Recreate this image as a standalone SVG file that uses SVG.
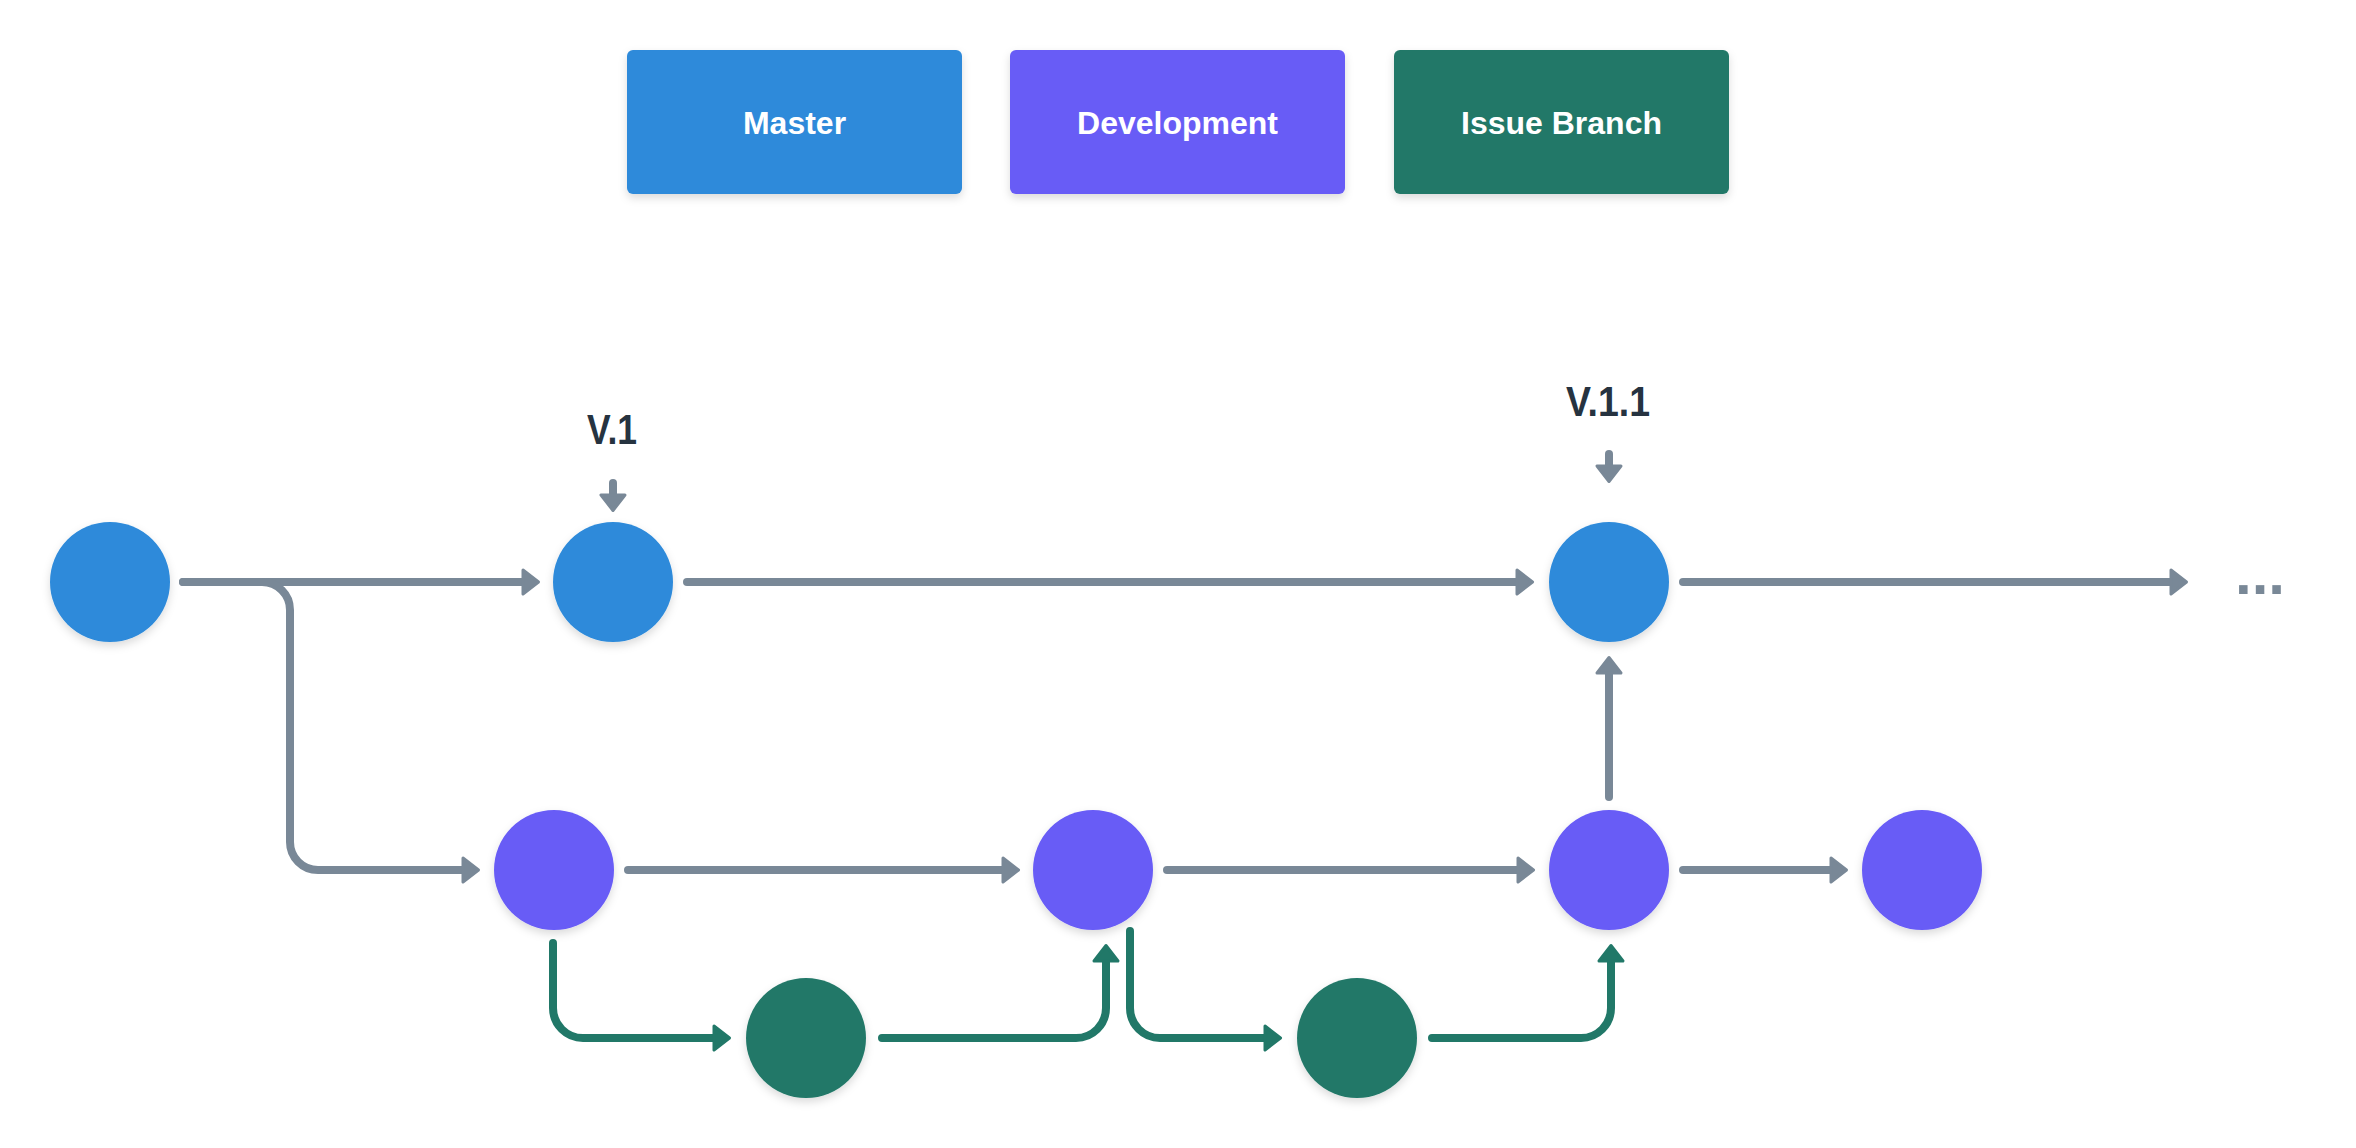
<svg xmlns="http://www.w3.org/2000/svg" width="2356" height="1148" viewBox="0 0 2356 1148">
  <style>
    .legend-label { font-family: "Liberation Sans", Arial, sans-serif; font-size: 32px; font-weight: bold; fill: #ffffff; text-anchor: middle; }
    .tag { font-family: "Liberation Sans", Arial, sans-serif; font-size: 42px; font-weight: bold; fill: #263340; text-anchor: middle; }
    .master { fill: #2D8ADA; }
    .dev { fill: #675BF6; }
    .issue { fill: #217868; }
    .flow { fill: none; stroke: #798897; stroke-width: 8; stroke-linecap: round; stroke-linejoin: round; marker-end: url(#head-gray); }
    .flow-issue { fill: none; stroke: #217868; stroke-width: 8; stroke-linecap: round; stroke-linejoin: round; marker-end: url(#head-green); }
  </style>
  <defs>
    <filter id="soft" x="-30%" y="-30%" width="160%" height="170%">
      <feDropShadow dx="0" dy="4" stdDeviation="4" flood-color="#000000" flood-opacity="0.14"/>
    </filter>
    <marker id="head-gray" markerUnits="userSpaceOnUse" viewBox="-6 -16 24 32" markerWidth="24" markerHeight="32" refX="0" refY="0" orient="auto">
      <path d="M-3,-12 L12.5,0 L-3,12 Z" fill="#798897" stroke="#798897" stroke-width="3" stroke-linejoin="round"/>
    </marker>
    <marker id="head-green" markerUnits="userSpaceOnUse" viewBox="-6 -16 24 32" markerWidth="24" markerHeight="32" refX="0" refY="0" orient="auto">
      <path d="M-3,-12 L12.5,0 L-3,12 Z" fill="#217868" stroke="#217868" stroke-width="3" stroke-linejoin="round"/>
    </marker>
  </defs>

  <rect width="2356" height="1148" fill="#ffffff"/>

  <!-- legend -->
  <g id="legend-master">
    <rect class="master" x="627" y="50" width="335" height="144" rx="6" filter="url(#soft)"/>
    <text class="legend-label" x="794.5" y="134">Master</text>
  </g>
  <g id="legend-development">
    <rect class="dev" x="1010" y="50" width="335" height="144" rx="6" filter="url(#soft)"/>
    <text class="legend-label" x="1177.5" y="134">Development</text>
  </g>
  <g id="legend-issue">
    <rect class="issue" x="1394" y="50" width="335" height="144" rx="6" filter="url(#soft)"/>
    <text class="legend-label" x="1561.5" y="134">Issue Branch</text>
  </g>

  <!-- version tags -->
  <g id="tag-v1">
    <text class="tag" x="612" y="444" textLength="50" lengthAdjust="spacingAndGlyphs">V.1</text>
  </g>
  <g id="tag-v11">
    <text class="tag" x="1608" y="416" textLength="84" lengthAdjust="spacingAndGlyphs">V.1.1</text>
  </g>
  <g id="more">
    <text x="2260" y="594" font-family="Liberation Sans, Arial, sans-serif" font-size="60" font-weight="bold" fill="#798897" text-anchor="middle">...</text>
  </g>

  <!-- connectors -->
  <g id="connectors">
    <path class="flow" d="M183,582 H526"/>
    <path class="flow" d="M183,582 H262 A28,28 0 0 1 290,610 V842 A28,28 0 0 0 318,870 H466"/>
    <path class="flow" d="M687,582 H1520"/>
    <path class="flow" d="M1683,582 H2174"/>
    <path class="flow" d="M628,870 H1006"/>
    <path class="flow" d="M1167,870 H1521"/>
    <path class="flow" d="M1683,870 H1834"/>
    <path class="flow" d="M1609,797 V670"/>
    <path class="flow" d="M613,483 V498"/>
    <path class="flow" d="M1609,454 V469"/>
    <path class="flow-issue" d="M553,943 V1008 A30,30 0 0 0 583,1038 H717"/>
    <path class="flow-issue" d="M882,1038 H1076 A30,30 0 0 0 1106,1008 V958"/>
    <path class="flow-issue" d="M1130,931 V1008 A30,30 0 0 0 1160,1038 H1268"/>
    <path class="flow-issue" d="M1432,1038 H1581 A30,30 0 0 0 1611,1008 V958"/>
  </g>

  <!-- master commits -->
  <g id="m1"><circle class="master" cx="110" cy="582" r="60" filter="url(#soft)"/></g>
  <g id="m2"><circle class="master" cx="613" cy="582" r="60" filter="url(#soft)"/></g>
  <g id="m3"><circle class="master" cx="1609" cy="582" r="60" filter="url(#soft)"/></g>

  <!-- development commits -->
  <g id="d1"><circle class="dev" cx="554" cy="870" r="60" filter="url(#soft)"/></g>
  <g id="d2"><circle class="dev" cx="1093" cy="870" r="60" filter="url(#soft)"/></g>
  <g id="d3"><circle class="dev" cx="1609" cy="870" r="60" filter="url(#soft)"/></g>
  <g id="d4"><circle class="dev" cx="1922" cy="870" r="60" filter="url(#soft)"/></g>

  <!-- issue branch commits -->
  <g id="i1"><circle class="issue" cx="806" cy="1038" r="60" filter="url(#soft)"/></g>
  <g id="i2"><circle class="issue" cx="1357" cy="1038" r="60" filter="url(#soft)"/></g>
</svg>
